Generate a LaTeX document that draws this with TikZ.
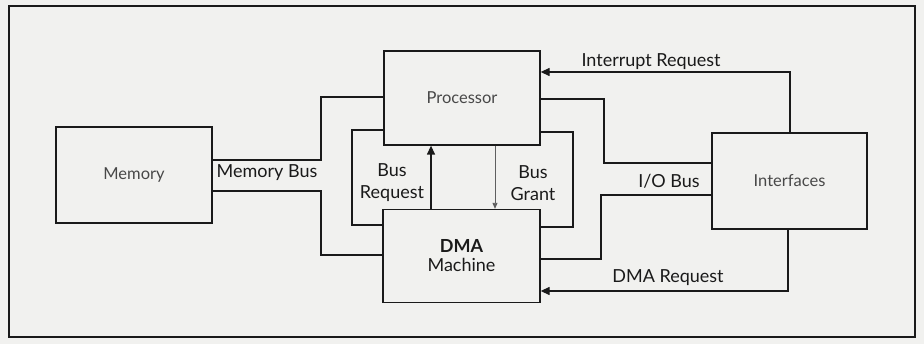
\documentclass[tikz,border=0pt]{standalone}
\usepackage{fontspec}
\setmainfont{Lato}
\usetikzlibrary{arrows.meta}
\definecolor{bg}{HTML}{F1F1EF}
\definecolor{ink}{HTML}{1A1A1A}
\tikzset{
  box/.style={draw=ink, line width=1.3pt, inner sep=0pt, font=\fontsize{16.5}{19}\selectfont\color{ink!80}},
  wire/.style={draw=ink, line width=1.3pt},
  arr/.style={wire, -{Triangle[length=9pt,width=8pt]}},
  arrsmall/.style={draw=ink!70, line width=0.9pt, -{Triangle[length=6pt,width=5pt]}},
  lbl/.style={font=\fontsize{18}{21}\selectfont, text=ink, align=center, inner sep=0pt},
}
\begin{document}
\begin{tikzpicture}[x=1pt,y=-1pt]
\fill[bg] (0,0) rectangle (924,344);
\useasboundingbox (0,0) rectangle (924,344);
\draw[ink, line width=1.3pt] (9,6) rectangle (915,337);

\node[box, minimum width=156pt, minimum height=94pt] (proc) at (462,98) {Processor};
\node[box, minimum width=156pt, minimum height=96pt] (mem) at (134,175) {Memory};
\node[box, minimum width=157pt, minimum height=93pt, align=center] (dma) at (461.5,256) {\fontsize{18}{21}\selectfont\color{ink}\bfseries DMA\\[0pt]\fontsize{18}{21}\selectfont\color{ink} Machine};
\node[box, minimum width=155pt, minimum height=96pt] (intf) at (789.5,181) {Interfaces};

% memory bus
\draw[wire] (mem.east |- 0,160) -| (321,97) -- (proc.west |- 0,97);
\draw[wire] (mem.east |- 0,191) -| (321,255) -- (dma.west |- 0,255);
% bus request
\draw[wire] (proc.west |- 0,130) -| (352,225) -- (dma.west |- 0,225);
\draw[arr] (dma.north -| 431,0) -- (proc.south -| 431,0);
% bus grant
\draw[wire] (proc.east |- 0,132) -| (573,227) -- (dma.east |- 0,227);
\draw[arrsmall] (proc.south -| 495,0) -- (dma.north -| 495,0);
% I/O bus
\draw[wire] (proc.east |- 0,99) -| (604,163) -- (intf.west |- 0,163);
\draw[wire] (dma.east |- 0,259) -| (601,195) -- (intf.west |- 0,195);
% interrupt request
\draw[arr] (intf.north -| 790,0) |- (proc.east |- 0,72);
% DMA request
\draw[arr] (intf.south -| 788,0) |- (dma.east |- 0,291);

\node[lbl] (lir) at (651,62) {Interrupt Request};
\node[lbl] (lmb) at (267,173) {Memory Bus};
\node[lbl] (lbr) at (392,183) {Bus\\[1pt]Request};
\node[lbl] (lbg) at (533,183) {Bus\\[1pt]Grant};
\node[lbl] (lio) at (669,181) {I/O Bus};
\node[lbl] (ldr) at (668,278) {DMA Request};
\end{tikzpicture}
\end{document}
